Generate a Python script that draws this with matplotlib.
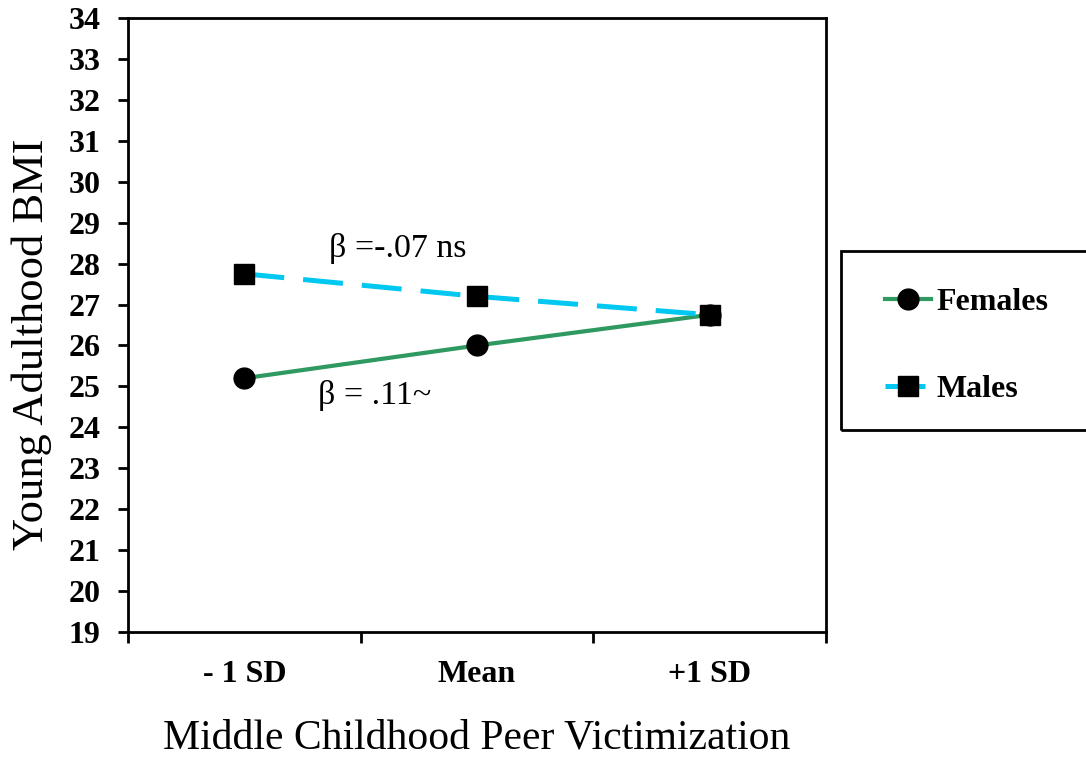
import matplotlib
matplotlib.use("Agg")
import matplotlib.pyplot as plt
from matplotlib.ticker import FixedLocator, NullFormatter
from matplotlib.patches import Rectangle

plt.rcParams['font.family'] = ['Liberation Serif', 'DejaVu Serif']

categories = ["- 1 SD", "Mean", "+1 SD"]
females = [25.2, 26.0, 26.75]
males = [27.75, 27.2, 26.75]
y_ticks = list(range(19, 35))
ann_males = "β =-.07 ns"
ann_females = "β = .11~"

fig = plt.figure(figsize=(10.86, 7.6), dpi=100)
ax = fig.add_axes([0.1179, 0.1684, 0.6427, 0.8079])

x = list(range(len(categories)))
ax.plot(x, females, color="#2e9960", lw=3.0, marker="o", ms=15,
        mfc="black", mec="black", label="Females", zorder=3)
ax.plot(x, males, color="#00c8f0", lw=3.6, ls=(0, (8, 3.8)), marker="s", ms=15,
        mfc="black", mec="black", label="Males", zorder=3)

ax.set_xlim(-0.5, 2.5)
ax.set_ylim(19, 34)
ax.set_yticks(y_ticks)
ax.set_yticklabels([str(v) for v in y_ticks], fontsize=23, fontweight="bold")

ax.xaxis.set_major_locator(FixedLocator([-0.5, 0.5, 1.5, 2.5]))
ax.xaxis.set_major_formatter(NullFormatter())
ax.xaxis.set_minor_locator(FixedLocator(x))
ax.set_xticklabels(categories, minor=True, fontsize=23, fontweight="bold")
ax.tick_params(axis="x", which="minor", length=0, pad=20)
ax.tick_params(axis="x", which="major", length=8, width=2, direction="out")
ax.tick_params(axis="y", which="major", length=7, width=2, direction="out", pad=13)

for s in ax.spines.values():
    s.set_linewidth(2)

ax.set_ylabel("Young Adulthood BMI", fontsize=32)
ax.yaxis.set_label_coords(-0.109, 0.469)
ax.set_xlabel("Middle Childhood Peer Victimization", fontsize=30, labelpad=22)

ax.text(0.66, 28.38, ann_males, fontsize=24.5, ha="center", va="center")
ax.text(0.56, 24.79, ann_females, fontsize=24.5, ha="center", va="center")

# legend frame
fig.patches.append(Rectangle((841 / 1086, 1 - 430 / 760), 0.3, 179 / 760,
                             transform=fig.transFigure, fill=False,
                             edgecolor="black", linewidth=2, zorder=1))
leg = fig.legend(handles=ax.get_lines(), loc="center left",
                 bbox_to_anchor=(885 / 1086, 1 - 346 / 760),
                 frameon=False, prop={"size": 23, "weight": "bold"},
                 handlelength=1.45, labelspacing=1.82, borderpad=0,
                 handletextpad=0.15, borderaxespad=0)

fig.savefig("out.png", dpi=100)
